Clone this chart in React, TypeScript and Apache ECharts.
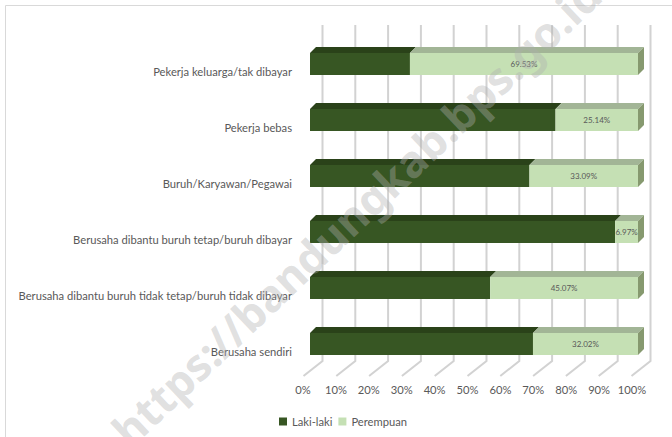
import React, { useEffect, useRef } from 'react';
import * as echarts from 'echarts';

const categories = [
  'Pekerja keluarga/tak dibayar',
  'Pekerja bebas',
  'Buruh/Karyawan/Pegawai',
  'Berusaha dibantu buruh tetap/buruh dibayar',
  'Berusaha dibantu buruh tidak tetap/buruh tidak dibayar',
  'Berusaha sendiri',
];
const lakiLaki = [30.47, 74.86, 66.91, 93.03, 54.93, 67.98];
const perempuan = [69.53, 25.14, 33.09, 6.97, 45.07, 32.02];
const xTicks = [0, 10, 20, 30, 40, 50, 60, 70, 80, 90, 100];

const FONT = 'Lato';
const DEPTH = 6;

function makeBar(front: string, top: string, side: string | null, withLabel: boolean) {
  return (params: any, api: any) => {
    const start = api.value(0);
    const end = api.value(1);
    const cat = api.value(2);
    const p0 = api.coord([start, cat]);
    const p1 = api.coord([end, cat]);
    const h = api.size([0, 1])[1] * 0.393;
    const yT = p0[1] - h / 2;
    const yB = p0[1] + h / 2;
    const x0 = p0[0];
    const x1 = p1[0];
    const d = DEPTH;
    const children: any[] = [
      {
        type: 'polygon',
        shape: { points: [[x0, yT], [x0 + d, yT - d], [x1 + d, yT - d], [x1, yT]] },
        style: { fill: top },
      },
      {
        type: 'rect',
        shape: { x: x0, y: yT, width: x1 - x0, height: h },
        style: { fill: front },
      },
    ];
    if (side) {
      children.push({
        type: 'polygon',
        shape: { points: [[x1, yT], [x1 + d, yT - d], [x1 + d, yB - d], [x1, yB]] },
        style: { fill: side },
      });
    }
    if (withLabel) {
      const v = api.value(3);
      children.push({
        type: 'text',
        x: (x0 + x1) / 2,
        y: p0[1],
        style: {
          text: v.toFixed(2) + '%',
          fill: '#595959',
          fontSize: 8,
          fontFamily: FONT,
          align: 'center',
          verticalAlign: 'middle',
        },
      });
    }
    return { type: 'group', children };
  };
}

export default function App() {
  const ref = useRef<HTMLDivElement>(null);
  useEffect(() => {
    if (!ref.current) return;
    const chart = echarts.init(ref.current, undefined, { renderer: 'svg' });
    const lakiData = lakiLaki.map((v, i) => [0, v, i, v]);
    const perData = perempuan.map((v, i) => [lakiLaki[i], lakiLaki[i] + v, i, v]);
    const gridData = xTicks.map((v) => [v, 0]);
    chart.setOption({
      animation: false,
      backgroundColor: '#ffffff',
      grid: [
        { left: 310, top: 36, width: 328, height: 336 },
        { left: 303, top: 43, width: 329, height: 336 },
      ],
      xAxis: [
        { gridIndex: 0, type: 'value', min: 0, max: 100, interval: 10, show: false },
        {
          gridIndex: 1,
          type: 'value',
          min: 0,
          max: 100,
          interval: 10,
          axisLine: { show: false },
          axisTick: { show: false },
          splitLine: { show: false },
          axisLabel: {
            formatter: '{value}%',
            margin: 5,
            fontSize: 11.2,
            fontFamily: FONT,
            color: '#595959',
          },
        },
      ],
      yAxis: [
        { gridIndex: 0, type: 'category', data: categories, inverse: true, show: false },
        {
          gridIndex: 1,
          type: 'category',
          data: categories,
          inverse: true,
          axisLine: { show: false },
          axisTick: { show: false },
          splitLine: { show: false },
          axisLabel: {
            margin: 11,
            fontSize: 11.2,
            fontFamily: FONT,
            color: '#595959',
          },
        },
      ],
      legend: {
        left: 279,
        top: 416,
        padding: 0,
        itemWidth: 8,
        itemHeight: 8,
        itemGap: 6,
        icon: 'rect',
        textStyle: { fontSize: 11.2, fontFamily: FONT, color: '#595959' },
        data: ['Laki-laki', 'Perempuan'],
      },
      graphic: [
        {
          type: 'rect',
          shape: { x: 5.5, y: 5.5, width: 700, height: 500 },
          style: { fill: 'none', stroke: '#d9d9d9', lineWidth: 1 },
          z: 0,
        },
        {
          type: 'text',
          x: 356,
          y: 212,
          rotation: 0.76,
          z: 100,
          silent: true,
          style: {
            text: 'https://bandungkab.bps.go.id',
            fontSize: 44,
            fontWeight: 'bold',
            fontFamily: 'Noto Sans',
            fill: 'rgba(175,175,175,0.4)',
            align: 'center',
            verticalAlign: 'middle',
          },
        },
      ],
      series: [
        {
          type: 'custom',
          name: 'grid',
          xAxisIndex: 0,
          yAxisIndex: 0,
          clip: false,
          silent: true,
          z: 1,
          encode: { x: 0 },
          data: gridData,
          renderItem: (params: any, api: any) => {
            const x = api.coord([api.value(0), 0])[0];
            return {
              type: 'polyline',
              shape: { points: [[x + 12.5, 25], [x + 12.5, 361], [x - 6.5, 376]] },
              style: { stroke: '#d2d2d2', lineWidth: 2, fill: 'none' },
            };
          },
        },
        {
          type: 'custom',
          name: 'Laki-laki',
          xAxisIndex: 0,
          yAxisIndex: 0,
          clip: false,
          z: 2,
          itemStyle: { color: '#375623' },
          encode: { x: [0, 1], y: 2 },
          data: lakiData,
          renderItem: makeBar('#375623', '#2a4219', null, false),
        },
        {
          type: 'custom',
          name: 'Perempuan',
          xAxisIndex: 0,
          yAxisIndex: 0,
          clip: false,
          z: 2,
          itemStyle: { color: '#c5e0b4' },
          encode: { x: [0, 1], y: 2 },
          data: perData,
          renderItem: makeBar('#c5e0b4', '#a2b596', '#86996f', true),
        },
      ],
    });
    return () => chart.dispose();
  }, []);
  return (
    <div
      ref={ref}
      style={{ position: 'fixed', left: 0, top: 0, width: 672, height: 437 }}
    />
  );
}
